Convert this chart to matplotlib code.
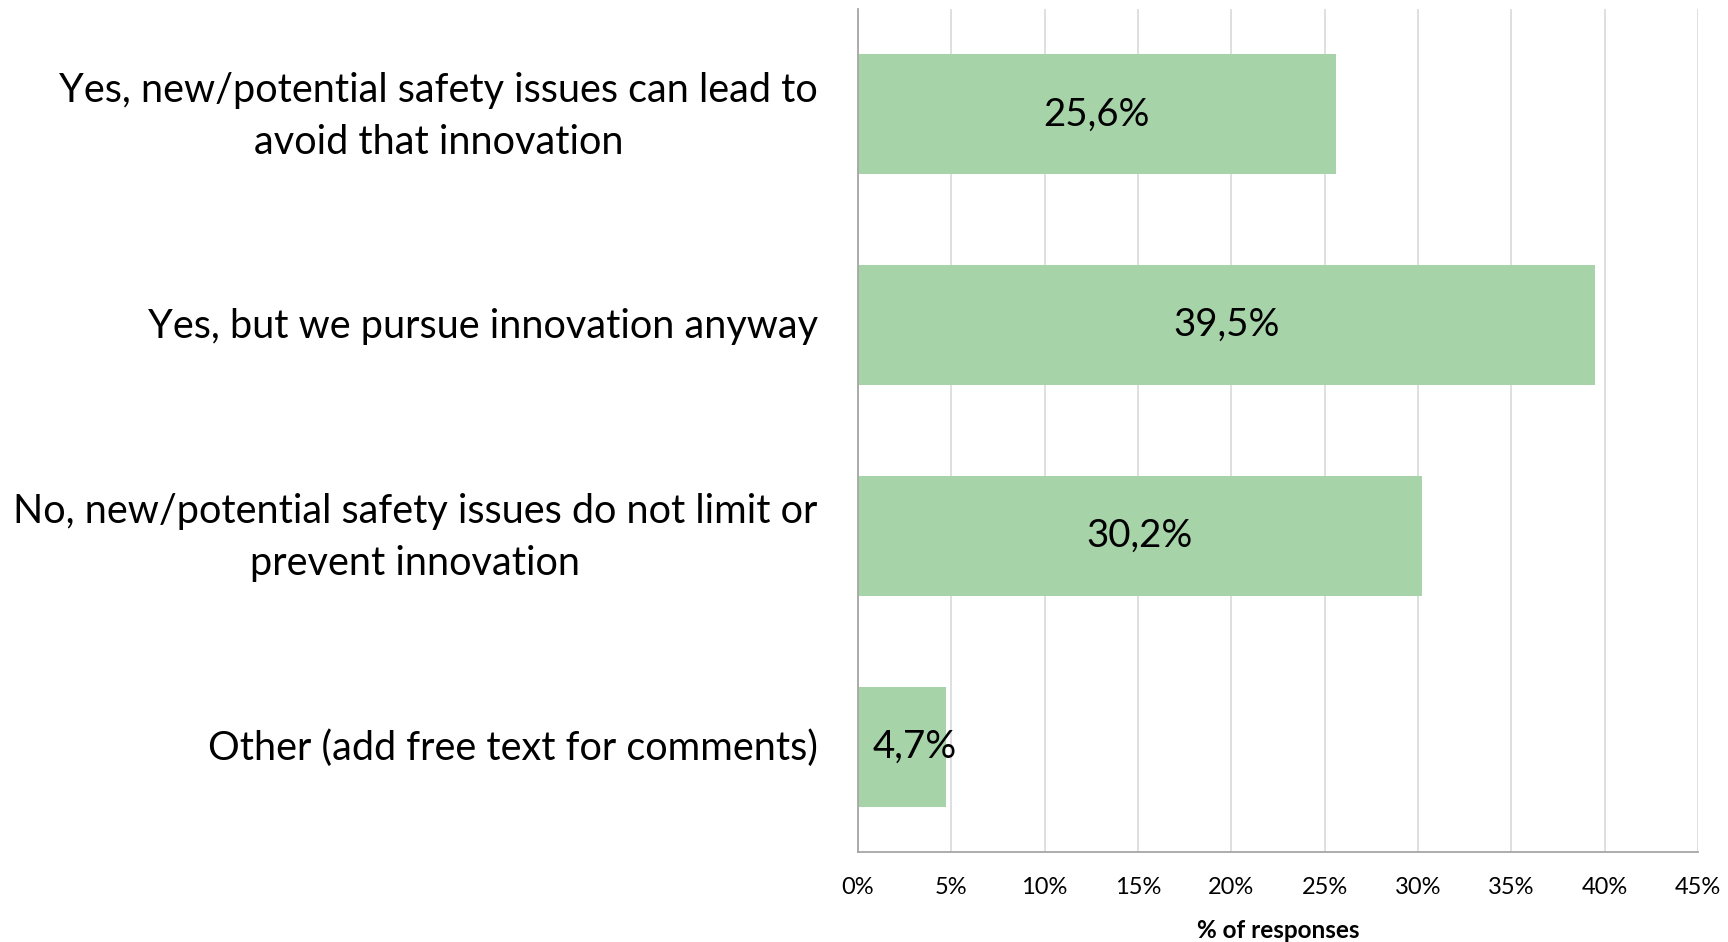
import matplotlib
matplotlib.use("Agg")
import matplotlib.pyplot as plt
import matplotlib.transforms as mtransforms
from matplotlib.ticker import MultipleLocator, FuncFormatter

# data
categories = [
    "Yes, new/potential safety issues can lead to\navoid that innovation",
    "Yes, but we pursue innovation anyway",
    "No, new/potential safety issues do not limit or\nprevent innovation",
    "Other (add free text for comments)",
]
values = [25.6, 39.5, 30.2, 4.7]
value_labels = ["25,6%", "39,5%", "30,2%", "4,7%"]

plt.rcParams['font.family'] = ['Lato', 'DejaVu Sans']

fig = plt.figure(figsize=(17.28, 9.42), dpi=100)
ax = fig.add_axes([0.4965, 0.0955, 0.4861, 0.8949])

ypos = list(range(len(categories)))
ax.barh(ypos, values, height=0.57, color="#a7d3a9", zorder=2)

for y, v, lab in zip(ypos, values, value_labels):
    if v < 10:
        ax.text(0.8, y, lab, ha="left", va="center", fontsize=27.7, color="black", zorder=3)
    else:
        ax.text(v / 2, y, lab, ha="center", va="center", fontsize=27.7, color="black", zorder=3)

ax.set_ylim(len(categories) - 0.5, -0.5)
ax.set_xlim(0, 45)
ax.set_yticks(ypos)
ax.set_yticklabels(categories, fontsize=28.5, multialignment="center", linespacing=1.5)
ax.tick_params(axis="y", length=0, pad=29)

# nudge labels up a bit (two-line ones more)
for lbl in ax.get_yticklabels():
    dy = 0.09 if "\n" in lbl.get_text() else 0.02
    lbl.set_transform(lbl.get_transform() + mtransforms.ScaledTranslation(0, dy, fig.dpi_scale_trans))

ax.xaxis.set_major_locator(MultipleLocator(5))
ax.xaxis.set_major_formatter(FuncFormatter(lambda x, p: f"{int(x)}%"))
ax.tick_params(axis="x", length=0, pad=18, labelsize=17)
ax.set_xlabel("% of responses", fontsize=17.5, fontweight="bold", labelpad=15)

ax.grid(axis="x", color="#d9d9d9", linewidth=1.2, zorder=0)
ax.set_axisbelow(True)
for s in ["top", "right"]:
    ax.spines[s].set_visible(False)
ax.spines["left"].set_color("#a6a6a6")
ax.spines["bottom"].set_color("#a6a6a6")
ax.spines["left"].set_linewidth(1.3)
ax.spines["bottom"].set_linewidth(1.3)

fig.savefig("out.png", dpi=100, facecolor="white")
